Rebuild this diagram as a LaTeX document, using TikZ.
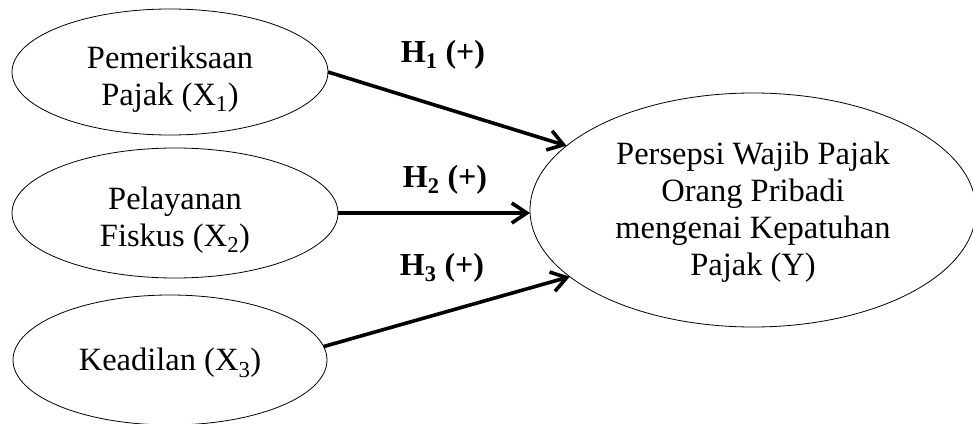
\documentclass[tikz,border=0pt]{standalone}
\usepackage{fontspec}
\setmainfont{Liberation Serif}
\usepackage{tikz}
\usetikzlibrary{shapes.geometric}
\usetikzlibrary{arrows.meta}
\tikzstyle{var}=[draw, ellipse, inner sep=0, outer sep=0, line width=0.8pt]
\tikzstyle{vartext}=[inner sep=0, align=center, yshift=-7pt, font=\fontsize{32.5}{37}\selectfont]
\tikzstyle{hyp}=[inner sep=0, font=\fontsize{32}{37}\selectfont\bfseries]
\tikzstyle{effect}=[line width=3.6pt, -{Straight Barb[length=15pt, width=20pt, line width=3.6pt]}]

\begin{document}
\begin{tikzpicture}[x=1pt, y=-1pt]
        \useasboundingbox (0, 0) rectangle (973, 423);
        % independent variables
        \node[var, minimum width=316, minimum height=126,
              label={[vartext]center:{Pemeriksaan\\Pajak (X\textsubscript{1})}}] (X1) at (170, 72) {};
        \node[var, minimum width=326, minimum height=130,
              label={[vartext]center:{Pelayanan\\Fiskus (X\textsubscript{2})}}] (X2) at (175, 213) {};
        \node[var, minimum width=314, minimum height=130,
              label={[vartext, yshift=4pt]center:{Keadilan (X\textsubscript{3})}}] (X3) at (170, 360) {};
        % dependent variable
        \node[var, minimum width=446, minimum height=234,
              label={[vartext, yshift=5pt]center:{Persepsi Wajib Pajak\\Orang Pribadi\\mengenai Kepatuhan\\Pajak (Y)}}] (Y) at (753, 210) {};
        \draw[effect] (X1.east) -- (Y.161);
        \draw[effect] (X2.east) -- (X2.east -| Y.west);
        \draw[effect] (X3.5) -- (Y.200);
        \node[hyp] (H1) at (443, 55) {H\textsubscript{1} (+)};
        \node[hyp] (H2) at (445, 180) {H\textsubscript{2} (+)};
        \node[hyp] (H3) at (442, 268) {H\textsubscript{3} (+)};
    \end{tikzpicture}
\end{document}
